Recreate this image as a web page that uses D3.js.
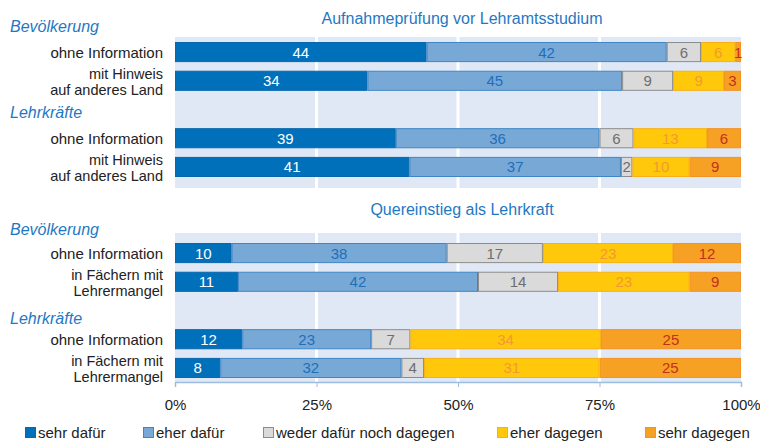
<!DOCTYPE html>
<html>
<head>
<meta charset="utf-8">
<script src="https://cdn.jsdelivr.net/npm/d3@7"></script>
<style>
  body { margin: 0; background: #fff; }
  svg { display: block; font-family: "Liberation Sans", Arial, sans-serif; }
</style>
</head>
<body>
<div class="chart"></div>
<script>
// data
const series = ['sehr dafür', 'eher dafür', 'weder dafür noch dagegen', 'eher dagegen', 'sehr dagegen'];
const groups = ['Bevölkerung', 'Lehrkräfte'];
const titleA = 'Aufnahmeprüfung vor Lehramtsstudium';
const titleB = 'Quereinstieg als Lehrkraft';
const rowsA = ['ohne Information', 'mit Hinweis|auf anderes Land', 'ohne Information', 'mit Hinweis|auf anderes Land'];
const rowsB = ['ohne Information', 'in Fächern mit|Lehrermangel', 'ohne Information', 'in Fächern mit|Lehrermangel'];
const valuesA = [[44, 42, 6, 6, 1], [34, 45, 9, 9, 3], [39, 36, 6, 13, 6], [41, 37, 2, 10, 9]];
const valuesB = [[10, 38, 17, 23, 12], [11, 42, 14, 23, 9], [12, 23, 7, 34, 25], [8, 32, 4, 31, 25]];
const ticks = [0, 25, 50, 75, 100];

const w = 760;
const h = 441;
const fill = ['#0070bb', '#78a9d6', '#dadada', '#ffc80b', '#f6a123'];
const stroke = ['#0a66ad', '#3f86c5', '#8c8c8c', '#f9b014', '#f39323'];
const textCol = ['#ffffff', '#1f6fb8', '#6e6e6e', '#f29a30', '#c4301f'];
const blue = '#1f78c3';

const svg = d3.select('.chart').append('svg').attr('width', w).attr('height', h);

const x = d3.scaleLinear().domain([0, 100]).range([175, 741]);

const panels = [
  { title: titleA, rows: rowsA, values: valuesA, bars: [42, 177], bg: [37, 188], titleY: 24, groupOff: [10, 10] },
  { title: titleB, rows: rowsB, values: valuesB, bars: [243, 378], bg: [233, 382], titleY: 215, groupOff: [8, 5] }
];

panels.forEach(p => {
  const slots = ['r0', 'r1', 'gap', 'r2', 'r3'];
  const y = d3.scaleBand().domain(slots).range(p.bars).paddingInner(0.3).paddingOuter(0);
  const rowKeys = ['r0', 'r1', 'r2', 'r3'];
  const g = svg.append('g');

  g.append('rect').attr('x', x(0)).attr('y', p.bg[0]).attr('width', x(100) - x(0))
    .attr('height', p.bg[1] - p.bg[0]).attr('fill', '#e1e8f5');

  g.selectAll('.grid').data([25, 50, 75]).enter().append('line')
    .attr('x1', d => x(d)).attr('x2', d => x(d)).attr('y1', p.bg[0]).attr('y2', p.bg[1])
    .attr('stroke', '#fff').attr('stroke-width', 3);

  g.append('text').attr('x', 462).attr('y', p.titleY).attr('text-anchor', 'middle')
    .attr('fill', blue).style('font-size', '16px').text(p.title);

  groups.forEach((name, i) => {
    g.append('text').attr('x', 10).attr('y', y(rowKeys[i * 2]) - p.groupOff[i])
      .attr('fill', blue).style('font-size', '16px').style('font-style', 'italic').text(name);
  });

  p.values.forEach((vals, r) => {
    const total = d3.sum(vals);
    let acc = 0;
    const segs = vals.map((v, k) => {
      const s = { v, k, x0: acc / total * 100, x1: (acc + v) / total * 100 };
      acc += v;
      return s;
    });
    const yy = y(rowKeys[r]);
    const bh = y.bandwidth();
    const row = g.append('g');
    row.selectAll('rect').data(segs).enter().append('rect')
      .attr('x', d => x(d.x0) + 0.5).attr('y', yy + 0.5)
      .attr('width', d => Math.max(0, x(d.x1) - x(d.x0) - 1)).attr('height', bh - 1)
      .attr('fill', d => fill[d.k]).attr('stroke', d => stroke[d.k]).attr('stroke-width', 1);
    row.selectAll('text').data(segs).enter().append('text')
      .attr('x', d => (x(d.x0) + x(d.x1)) / 2).attr('y', yy + bh / 2 + 5.5)
      .attr('text-anchor', 'middle').attr('fill', d => textCol[d.k])
      .style('font-size', '15px').text(d => d.v);

    const lines = p.rows[r].split('|');
    const single = lines.length === 1;
    const lab = g.append('text').attr('text-anchor', 'end').attr('fill', '#222')
      .style('font-size', single ? '15px' : '14.5px');
    const cy = yy + bh / 2;
    lines.forEach((t, j) => {
      const base = single ? cy + 5.5 : cy - 1.5 + j * 16;
      lab.append('tspan').attr('x', 163).attr('y', base).text(t);
    });
  });
});

// x axis under the second panel
const axis = svg.append('g').attr('transform', 'translate(0, 382)')
  .call(d3.axisBottom(x).tickValues(ticks).tickSize(5).tickFormat(d => d + '%'));
axis.select('.domain').attr('stroke', '#9dbde0').attr('stroke-width', 1.5);
axis.selectAll('.tick line').attr('stroke', '#9dbde0');
axis.selectAll('.tick text').attr('fill', '#222').attr('y', 17).style('font-size', '15px')
  .style('font-family', '"Liberation Sans", Arial, sans-serif');

// legend
const legX = [25, 143, 263, 497, 645];
const leg = svg.append('g').attr('transform', 'translate(0, 427)');
leg.selectAll('rect').data(series).enter().append('rect')
  .attr('x', (d, i) => legX[i] + 0.5).attr('y', 0.5).attr('width', 10).attr('height', 10)
  .attr('fill', (d, i) => fill[i]).attr('stroke', (d, i) => stroke[i]);
leg.selectAll('text').data(series).enter().append('text')
  .attr('x', (d, i) => legX[i] + 13).attr('y', 11).attr('fill', '#222')
  .style('font-size', '15px').text(d => d);
</script>
</body>
</html>
